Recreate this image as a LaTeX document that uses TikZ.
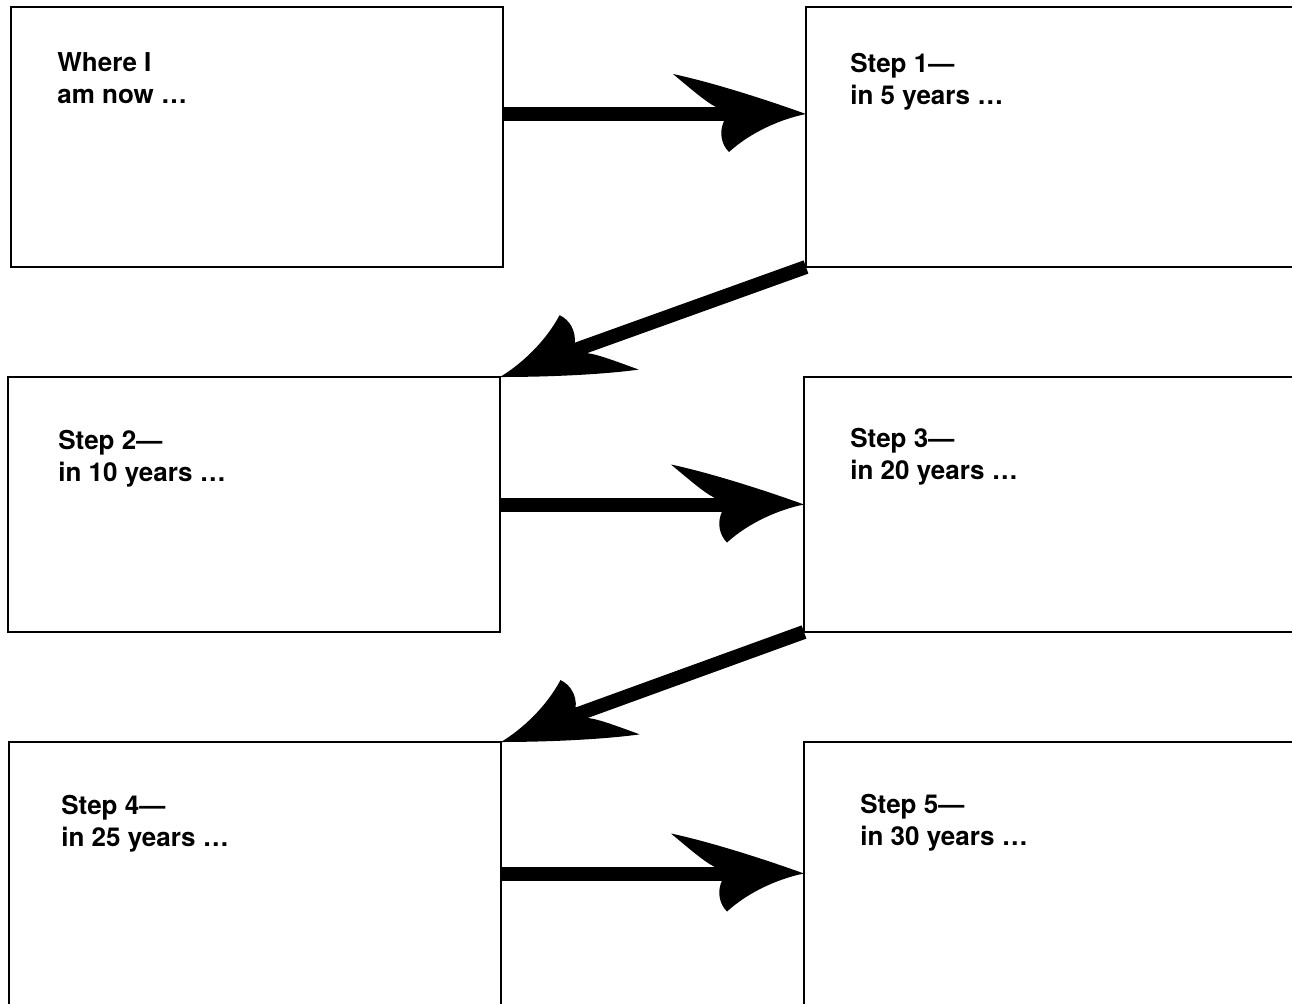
\documentclass[tikz,border=0pt]{standalone}
\usepackage{fontspec}
\setmainfont{TeX Gyre Heros}
\usetikzlibrary{positioning}

% swept arrow head, tip at the origin, pointing along +x
\tikzset{
  pics/sweephead/.style={code={
    \fill (0,0) .. controls (-50,-18) and (-100,-33) .. (-133,-40)
      .. controls (-115,-25) and (-100,-12) .. (-90,-7)
      -- (-82,7) .. controls (-87,18) and (-85,30) .. (-77,38)
      .. controls (-55,18) and (-25,5) .. (0,0) -- cycle;
  }}
}

\begin{document}
\begin{tikzpicture}[x=0.5pt,y=-0.5pt,
  stepbox/.style={draw,line width=1.25pt,fill=white,inner sep=0pt,outer sep=0pt,
    anchor=north west,minimum width=246pt},
  steptext/.style={align=left,inner sep=0pt,anchor=north west,
    font=\fontsize{13}{16}\selectfont\bfseries},
  shaft/.style={line width=7pt,shorten >=25pt}]
  \useasboundingbox (0,0) rectangle (1292,1003);
  \clip (0,0) rectangle (1292,1003);

  \node[stepbox,minimum height=130pt] (now) at (11,7) {};
  \node[stepbox,minimum height=130pt] (step1) at (806,7) {};
  \node[stepbox,minimum height=127.5pt] (step2) at (8,377) {};
  \node[stepbox,minimum height=127.5pt] (step3) at (804,377) {};
  \node[stepbox,minimum height=131.5pt] (step4) at (9,742) {};
  \node[stepbox,minimum height=131.5pt] (step5) at (804,742) {};

  \node[steptext,below right=22.5pt and 23pt of now.north west] (tnow) {Where I\\am now …};
  \node[steptext,below right=23pt and 22pt of step1.north west] (tstep1) {Step 1—\\in 5 years …};
  \node[steptext,below right=26.5pt and 25pt of step2.north west] (tstep2) {Step 2—\\in 10 years …};
  \node[steptext,below right=25.5pt and 23pt of step3.north west] (tstep3) {Step 3—\\in 20 years …};
  \node[steptext,below right=26.5pt and 26pt of step4.north west] (tstep4) {Step 4—\\in 25 years …};
  \node[steptext,below right=26pt and 28pt of step5.north west] (tstep5) {Step 5—\\in 30 years …};

  % connectors
  \draw[shaft] ([yshift=11.5pt]now.east) -- ([yshift=11.5pt]step1.west);
  \pic at ([yshift=11.5pt]step1.west) {sweephead};
  \draw[shaft] (step1.south west) -- (step2.north east);
  \pic[rotate=199.8] at (step2.north east) {sweephead};
  \draw[shaft] (step2.east) -- (step3.west);
  \pic at (step3.west) {sweephead};
  \draw[shaft] (step3.south west) -- (step4.north east);
  \pic[rotate=199.9] at (step4.north east) {sweephead};
  \draw[shaft] (step4.east) -- (step5.west);
  \pic at (step5.west) {sweephead};
\end{tikzpicture}
\end{document}
